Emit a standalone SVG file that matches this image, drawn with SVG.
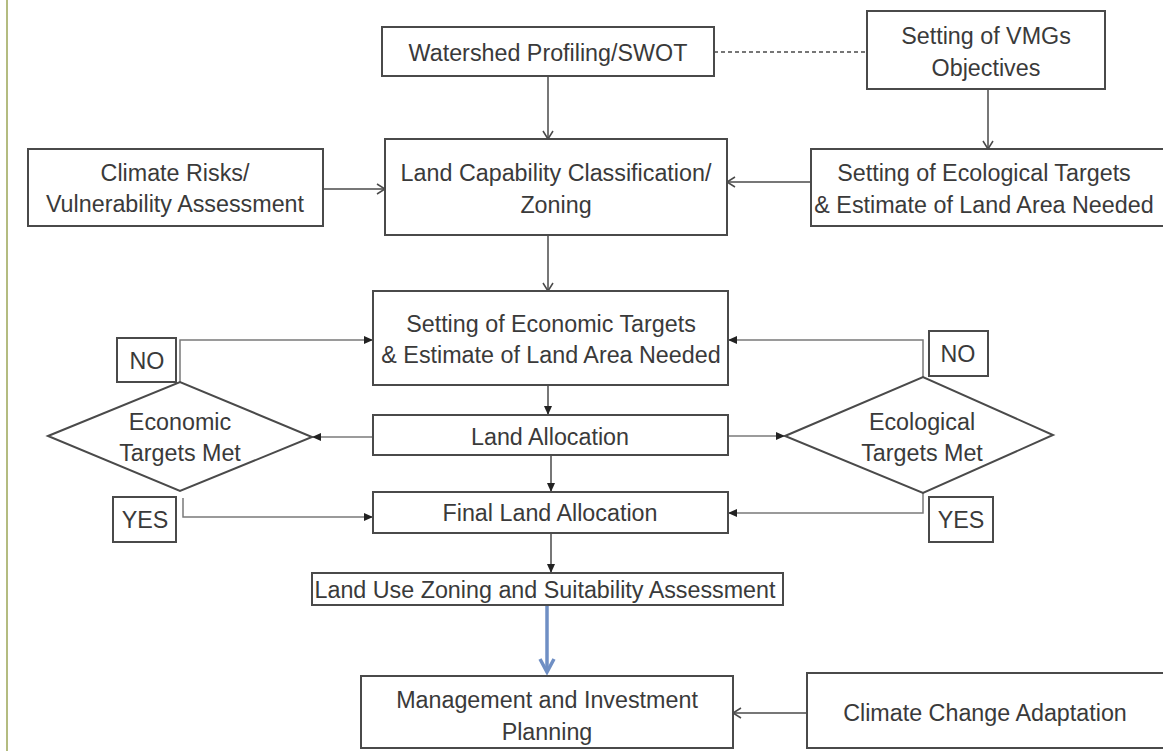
<svg xmlns="http://www.w3.org/2000/svg" width="1163" height="751" viewBox="0 0 1163 751">
<style>
.box{fill:#fff;stroke:#4a4a4a;stroke-width:2}
.t{font-family:"Liberation Sans",Arial,sans-serif;font-size:23.3px;fill:#3a3a3a;text-anchor:middle;dominant-baseline:central}
.c{fill:none;stroke:#4a4a4a;stroke-width:1.5}
.cl{fill:none;stroke:#7a7a7a;stroke-width:1.5}
</style>
<defs>
<marker id="open" markerUnits="userSpaceOnUse" markerWidth="12" markerHeight="12" refX="10" refY="6" orient="auto">
<path d="M2,1 L10,6 L2,11" fill="none" stroke="#4a4a4a" stroke-width="1.5"/>
</marker>
<marker id="fill" markerUnits="userSpaceOnUse" markerWidth="10" markerHeight="10" refX="9" refY="5" orient="auto">
<path d="M0,1 L9,5 L0,9 Z" fill="#222"/>
</marker>
</defs>
<rect width="1163" height="751" fill="#fff"/>
<line x1="7" y1="0" x2="7" y2="751" stroke="#b4bc80" stroke-width="2"/>

<g id="connectors">
<line class="c" x1="714" y1="52" x2="867" y2="52" stroke-dasharray="4,3"/>
<line class="c" x1="548" y1="76" x2="548" y2="139" marker-end="url(#open)"/>
<line class="c" x1="988" y1="89" x2="988" y2="149" marker-end="url(#open)"/>
<line class="c" x1="323" y1="189" x2="385" y2="189" marker-end="url(#open)"/>
<line class="c" x1="811" y1="182" x2="727" y2="182" marker-end="url(#open)"/>
<line class="c" x1="548" y1="235" x2="548" y2="291" marker-end="url(#open)"/>
<line class="c" x1="548" y1="385" x2="548" y2="415" marker-end="url(#fill)"/>
<line class="c" x1="551" y1="455" x2="551" y2="492" marker-end="url(#fill)"/>
<line class="c" x1="551" y1="533" x2="551" y2="573" marker-end="url(#fill)"/>
<polyline class="cl" points="180,382 180,340 373,340" marker-end="url(#fill)"/>
<polyline class="cl" points="923,377 923,340 728,340" marker-end="url(#fill)"/>
<line class="cl" x1="373" y1="437" x2="312" y2="437" marker-end="url(#fill)"/>
<line class="cl" x1="728" y1="436" x2="785" y2="436" marker-end="url(#fill)"/>
<polyline class="cl" points="183,498 183,517 373,517" marker-end="url(#fill)"/>
<polyline class="cl" points="923,493 923,513 728,513" marker-end="url(#fill)"/>
<line x1="547" y1="605" x2="547" y2="672" stroke="#6f8fc4" stroke-width="3.5"/>
<polyline points="540,659 547,672 554,659" fill="none" stroke="#6f8fc4" stroke-width="3.5"/>
<line class="c" x1="807" y1="713" x2="733" y2="713" marker-end="url(#open)"/>
</g>

<g id="watershed"><rect class="box" x="382" y="27" width="332" height="49"/><text class="t" x="548" y="53">Watershed Profiling/SWOT</text></g>
<g id="vmgs"><rect class="box" x="867" y="11" width="238" height="78"/><text class="t" x="986" y="36">Setting of VMGs</text><text class="t" x="986" y="68">Objectives</text></g>
<g id="climate-risks"><rect class="box" x="28" y="149" width="295" height="77"/><text class="t" x="175" y="173">Climate Risks/</text><text class="t" x="175" y="204">Vulnerability Assessment</text></g>
<g id="lcc"><rect class="box" x="385" y="139" width="342" height="96"/><text class="t" x="556" y="173">Land Capability Classification/</text><text class="t" x="556" y="205">Zoning</text></g>
<g id="eco-targets"><rect class="box" x="811" y="149" width="360" height="77"/><text class="t" x="984" y="173">Setting of Ecological Targets</text><text class="t" x="984" y="205">&amp; Estimate of Land Area Needed</text></g>
<g id="econ-targets"><rect class="box" x="373" y="291" width="355" height="94"/><text class="t" x="551" y="324">Setting of Economic Targets</text><text class="t" x="551" y="355">&amp; Estimate of Land Area Needed</text></g>
<g id="land-allocation"><rect class="box" x="373" y="415" width="355" height="40"/><text class="t" x="550" y="437">Land Allocation</text></g>
<g id="final-allocation"><rect class="box" x="373" y="492" width="355" height="41"/><text class="t" x="550" y="513">Final Land Allocation</text></g>
<g id="econ-met"><polygon class="box" points="48,436 180,382 312,437 180,491"/><text class="t" x="180" y="422">Economic</text><text class="t" x="180" y="453">Targets Met</text></g>
<g id="eco-met"><polygon class="box" points="785,436 923,377 1053,435 923,493"/><text class="t" x="922" y="422">Ecological</text><text class="t" x="922" y="453">Targets Met</text></g>
<g id="no-left"><rect class="box" x="117" y="338" width="59" height="44"/><text class="t" x="147" y="361">NO</text></g>
<g id="yes-left"><rect class="box" x="113" y="497" width="63" height="45"/><text class="t" x="145" y="520">YES</text></g>
<g id="no-right"><rect class="box" x="929" y="331" width="59" height="45"/><text class="t" x="958" y="354">NO</text></g>
<g id="yes-right"><rect class="box" x="929" y="497" width="64" height="45"/><text class="t" x="961" y="520">YES</text></g>
<g id="land-use"><rect class="box" x="312" y="573" width="471" height="32"/><text class="t" x="545" y="590">Land Use Zoning and Suitability Assessment</text></g>
<g id="management"><rect class="box" x="361" y="676" width="372" height="72"/><text class="t" x="547" y="700">Management and Investment</text><text class="t" x="547" y="732">Planning</text></g>
<g id="cca"><rect class="box" x="807" y="673" width="364" height="75"/><text class="t" x="985" y="713">Climate Change Adaptation</text></g>
</svg>
